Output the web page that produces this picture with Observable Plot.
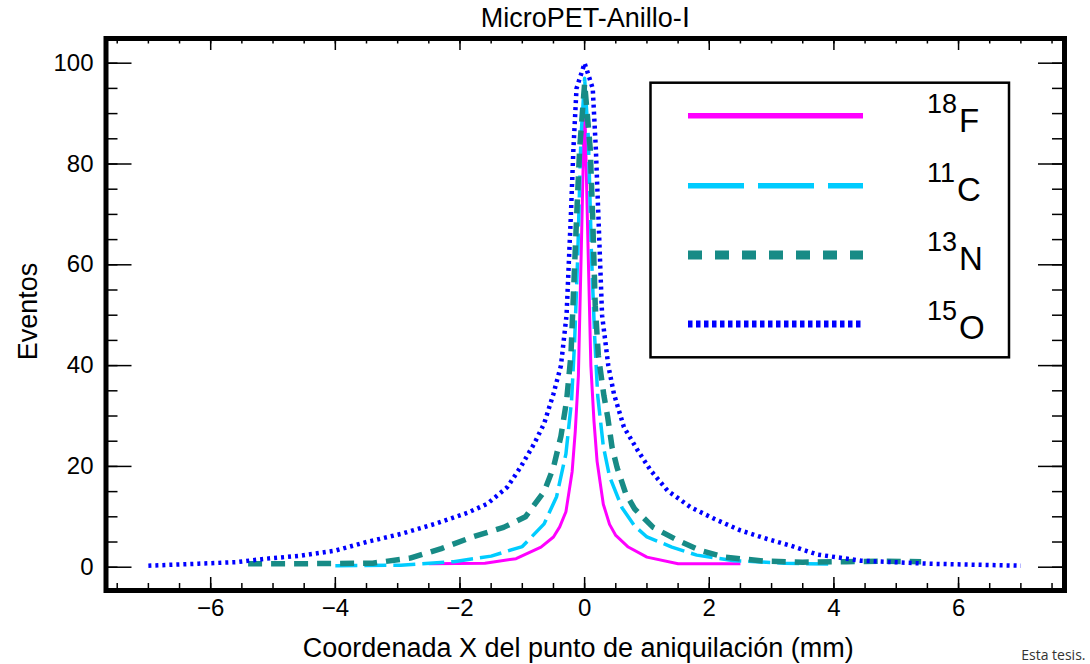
<!DOCTYPE html>
<html><head><meta charset="utf-8">
<script src="https://cdn.jsdelivr.net/npm/d3@7"></script>
<script src="https://cdn.jsdelivr.net/npm/@observablehq/plot@0.6"></script>
<style>body{margin:0;background:#fff;}</style>
</head><body><div id="chart"></div>
<script>
const title = "MicroPET-Anillo-Ⅰ";
const xLabel = "Coordenada X del punto de aniquilación (mm)";
const yLabel = "Eventos";
const caption = "Esta tesis.";
const isoMass = ["18", "11", "13", "15"];
const isoSymbol = ["F", "C", "N", "O"];
const isoColor = ["#ff00ff", "#00ccff", "#178b86", "#0000ff"];

const xTicks = [-6, -4, -2, 0, 2, 4, 6];
const yTicks = [0, 20, 40, 60, 80, 100];
const xMinor = [-7.5,-7,-6.5,-6,-5.5,-5,-4.5,-4,-3.5,-3,-2.5,-2,-1.5,-1,-0.5,0,0.5,1,1.5,2,2.5,3,3.5,4,4.5,5,5.5,6,6.5,7,7.5];
const yMinor = [0,5,10,15,20,25,30,35,40,45,50,55,60,65,70,75,80,85,90,95,100];

// 18F
const xF = [-2.5, -1.6, -1.1, -0.7, -0.5, -0.4, -0.3, -0.2, -0.15, -0.1, -0.05, 0, 0.05, 0.1, 0.15, 0.2, 0.3, 0.4, 0.5, 0.7, 1.0, 1.5, 2.5];
const yF = [0.7, 0.8, 1.7, 4.0, 6.0, 8.0, 11, 19, 27, 38, 65, 93, 66, 40, 29, 21, 12.5, 8.5, 6.3, 4.0, 2.0, 0.7, 0.7];
// 11C
const xC = [-4.0, -2.95, -2.1, -1.5, -1.0, -0.65, -0.45, -0.3, -0.21, -0.16, -0.11, -0.06, 0, 0.06, 0.11, 0.16, 0.21, 0.3, 0.4, 0.6, 0.8, 1.0, 1.4, 1.8, 2.4, 3.2, 4.0];
const yC = [0.3, 0.4, 1.1, 2.2, 4.1, 8.6, 14, 22.5, 33, 45, 62, 85, 97, 85, 62, 46, 34, 24, 18, 11.8, 8.2, 6.0, 4.0, 2.4, 1.3, 0.8, 0.6];
// 13N
const xN = [-5.4, -4.5, -3.4, -2.8, -2.3, -1.8, -1.3, -0.95, -0.8, -0.65, -0.5, -0.38, -0.29, -0.22, -0.13, -0.08, 0, 0.09, 0.13, 0.17, 0.22, 0.31, 0.37, 0.44, 0.52, 0.66, 0.8, 1.1, 1.5, 1.86, 2.24, 2.9, 3.5, 4.2, 4.8, 5.4];
const yN = [0.7, 0.7, 0.8, 1.8, 3.7, 6.0, 7.9, 10, 12.5, 15, 19.8, 26, 33, 42, 69, 83, 96, 83, 69, 52, 42, 34, 29.8, 23.8, 19.8, 14.6, 11.6, 7.9, 5.3, 3.3, 2.0, 1.2, 1.0, 1.1, 1.2, 1.1];
// 15O
const xO = [-7.0, -6.2, -5.6, -5.1, -4.55, -4.0, -3.5, -2.95, -2.4, -1.88, -1.56, -1.24, -1.03, -0.81, -0.65, -0.5, -0.38, -0.29, -0.22, -0.18, -0.13, 0, 0.13, 0.18, 0.22, 0.28, 0.38, 0.47, 0.63, 0.85, 1.06, 1.33, 1.7, 2.08, 2.5, 2.93, 3.3, 3.74, 4.43, 5.5, 7.0];
const yO = [0.3, 0.7, 1.0, 1.7, 2.3, 3.3, 5.0, 6.6, 8.6, 10.8, 12.6, 15.9, 19.8, 24.5, 28.5, 34.4, 40, 50, 70, 83, 95, 100, 95, 83, 70, 50, 40, 34.4, 27.8, 23.2, 19.2, 15.2, 11.9, 9.6, 7.3, 5.6, 4.3, 2.5, 1.3, 0.7, 0.3];

const seriesX = [xF, xC, xN, xO];
const seriesY = [yF, yC, yN, yO];
const lineWidth = [3, 3.5, 5.5, 4.5];
const lineDash = [null, "22,7", "14,9", "3,4"];
const legWidth = [5.5, 5.5, 9, 7];
const legDash = [null, "56,14", "14,13", "4.5,3.5"];

const W = 1090, H = 664, mL = 105.5, mR = 26, mT = 38, mB = 74;
const pW = W - mL - mR, pH = H - mT - mB;
const font = "'Liberation Sans', Arial, sans-serif";

const lineMarks = seriesX.map((xs, i) =>
  Plot.line(xs.map((x, j) => ({x, y: seriesY[i][j]})), {
    x: "x", y: "y", stroke: isoColor[i], strokeWidth: lineWidth[i],
    strokeDasharray: lineDash[i], strokeLinejoin: "round", strokeLinecap: "butt"
  }));

const fmt = d3.format("d");
const chart = Plot.plot({
  width: W, height: H,
  marginLeft: mL, marginRight: mR, marginTop: mT, marginBottom: mB,
  x: {domain: [-7.68, 7.70], axis: null},
  y: {domain: [-4.62, 104.9], axis: null},
  style: {fontFamily: font, background: "white", color: "black", overflow: "visible"},
  marks: [
    Plot.tickX(xMinor, {x: d => d, insetTop: pH - 7, strokeWidth: 1.5}),
    Plot.tickX(xTicks, {x: d => d, insetTop: pH - 13, strokeWidth: 1.5}),
    Plot.tickX(xMinor, {x: d => d, insetBottom: pH - 5.5, strokeWidth: 1.5}),
    Plot.tickX(xTicks, {x: d => d, insetBottom: pH - 12, strokeWidth: 1.5}),
    Plot.tickY(yMinor, {y: d => d, insetRight: pW - 12, strokeWidth: 1.5}),
    Plot.tickY(yTicks, {y: d => d, insetRight: pW - 26, strokeWidth: 1.5}),
    Plot.tickY(yMinor, {y: d => d, insetLeft: pW - 12, strokeWidth: 1.5}),
    Plot.tickY(yTicks, {y: d => d, insetLeft: pW - 26, strokeWidth: 1.5}),
    ...lineMarks,
    Plot.frame({stroke: "black", strokeWidth: 5}),
    Plot.text(xTicks, {x: d => d, text: d => fmt(d), frameAnchor: "bottom", lineAnchor: "middle", dy: 18, fontSize: 24, fill: "black"}),
    Plot.text(yTicks, {y: d => d, text: d => fmt(d), frameAnchor: "left", textAnchor: "end", lineAnchor: "middle", dx: -12.5, fontSize: 24, fill: "black"}),
    Plot.text([xLabel], {text: d => d, frameAnchor: "bottom", lineAnchor: "middle", dy: 58, dx: -7, fontSize: 27, fill: "black"}),
    Plot.text([yLabel], {text: d => d, frameAnchor: "left", textAnchor: "middle", lineAnchor: "middle", rotate: -90, dx: -77.5, dy: -3, fontSize: 27, fill: "black"}),
    Plot.text([title], {text: d => d, frameAnchor: "top", lineAnchor: "middle", dy: -20, fontSize: 27, fill: "black"}),
    Plot.text([caption], {text: d => d, frameAnchor: "bottom-right", textAnchor: "end", lineAnchor: "middle", dx: 21, dy: 65, fontSize: 14, fill: "#333", fontFamily: "'Open Sans', sans-serif"})
  ]
});

// Legend box
const svg = d3.select(chart);
const leg = svg.append("g").attr("text-anchor", "start");
const box = {x: 650.5, y: 82.7, w: 358.5, h: 274.6};
leg.append("rect").attr("x", box.x).attr("y", box.y).attr("width", box.w).attr("height", box.h)
  .attr("fill", "white").attr("stroke", "black").attr("stroke-width", 2.5);
const rowY = [115.7, 185.7, 255, 324];
const letterBase = [132, 200.5, 269.5, 338.5];
isoSymbol.forEach((s, i) => {
  leg.append("line").attr("x1", 688).attr("x2", 863).attr("y1", rowY[i]).attr("y2", rowY[i])
    .attr("stroke", isoColor[i]).attr("stroke-width", legWidth[i])
    .attr("stroke-dasharray", legDash[i]);
  const t = leg.append("text").attr("x", 927).attr("y", letterBase[i])
    .attr("font-family", font).attr("fill", "black").attr("text-anchor", "start");
  t.append("tspan").attr("font-size", 27).attr("dy", -19).text(isoMass[i]);
  t.append("tspan").attr("font-size", 33).attr("dy", 19).attr("dx", 2).text(s);
});

document.getElementById("chart").appendChild(chart);
</script>
</body></html>
